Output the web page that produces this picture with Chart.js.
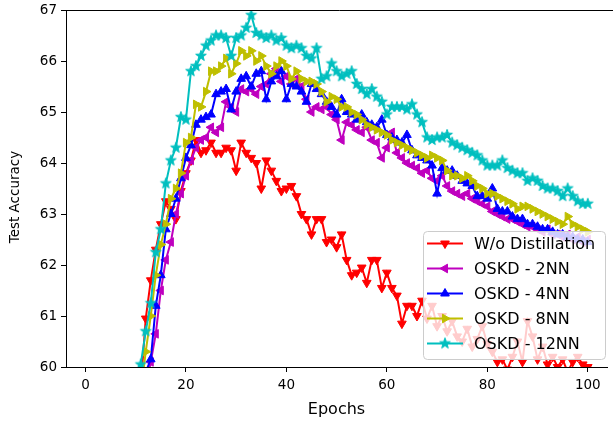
<!DOCTYPE html>
<html>
<head>
<meta charset="utf-8">
<script src="https://cdn.jsdelivr.net/npm/chart.js@4/dist/chart.umd.min.js"></script>
<style>
  html, body { margin: 0; padding: 0; background: #fff; }
  #chart { display: block; }
</style>
</head>
<body>
<canvas id="chart" width="613" height="421"></canvas>
<script>
// epochs 1..100 (x positions)
const epochs = Array.from({ length: 100 }, (_, i) => i + 1);

const xTicks = [0, 20, 40, 60, 80, 100];
const yTicks = [60, 61, 62, 63, 64, 65, 66, 67];

const seriesNames = ["W/o Distillation", "OSKD - 2NN", "OSKD - 4NN", "OSKD - 8NN", "OSKD - 12NN"];

const woDistill = [
    35.0, 42.1, 46.5, 49.8, 52.3, 54.2, 55.9, 57.1, 58.0, 58.8,
    59.6, 60.95, 61.7, 62.3, 62.8, 63.25, 63.1, 62.9, 63.45, 63.8,
    64.05, 64.45, 64.2, 64.25, 64.4, 64.2, 64.2, 64.3, 64.25, 63.85,
    64.4, 64.2, 64.1, 64.0, 63.5, 64.05, 63.85, 63.65, 63.45, 63.5,
    63.55, 63.35, 63.0, 62.9, 62.6, 62.9, 62.9, 62.45, 62.5, 62.35,
    62.6, 62.1, 61.8, 61.85, 61.95, 61.65, 62.1, 62.1, 61.55, 61.85,
    61.55, 61.4, 60.85, 61.2, 61.2, 61.0, 61.3, 60.95, 61.2, 60.8,
    61.0, 60.7, 60.9, 60.6, 60.5, 60.75, 60.4, 60.55, 60.8, 60.45,
    60.3, 60.1, 60.15, 59.95, 60.2, 60.5, 60.1, 60.9, 60.6, 60.15,
    60.4, 60.05, 60.2, 60.0, 60.15, 59.9, 60.1, 60.2, 60.05, 60.0
];

const oskd2 = [
    33.0, 40.5, 45.0, 48.5, 51.0, 53.2, 55.0, 56.5, 57.6, 58.4,
    59.0, 59.6, 60.1, 60.65, 61.5, 62.1, 62.45, 63.0, 63.4, 63.75,
    64.05, 64.3, 64.45, 64.5, 64.7, 64.6, 64.7, 65.2, 65.1, 65.0,
    65.45, 65.4, 65.45, 65.35, 65.5, 65.55, 65.75, 65.85, 65.6, 65.7,
    65.55, 65.65, 65.5, 65.25, 65.0, 65.1, 65.05, 65.1, 64.95, 64.85,
    64.45, 64.8, 64.75, 64.65, 64.6, 64.7, 64.45, 64.4, 64.1, 64.3,
    64.6, 64.2, 64.1, 64.0, 63.95, 63.9, 63.8, 63.85, 63.7, 63.65,
    63.75, 63.55, 63.45, 63.4, 63.35, 63.4, 63.3, 63.25, 63.2, 63.15,
    63.05, 63.0, 62.95, 62.9, 62.9, 62.85, 62.8, 62.75, 62.75, 62.7,
    62.65, 62.7, 62.6, 62.6, 62.55, 62.6, 62.5, 62.55, 62.45, 62.5
];

const oskd4 = [
    34.5, 41.8, 46.0, 49.3, 51.8, 53.8, 55.5, 56.8, 57.8, 58.6,
    59.2, 59.9, 60.15, 61.2, 61.8, 62.7, 63.0, 63.3, 63.7, 64.1,
    64.35, 64.75, 64.85, 64.9, 64.95, 65.35, 65.4, 65.45, 65.05, 65.4,
    65.65, 65.7, 65.5, 65.75, 65.8, 65.25, 65.6, 65.7, 65.8, 65.25,
    65.55, 65.5, 65.4, 65.2, 65.55, 65.45, 65.35, 65.2, 65.1, 64.95,
    65.25, 65.0, 64.95, 64.85, 64.95, 64.8, 64.75, 64.7, 64.85, 64.55,
    64.5, 64.45, 64.4, 64.55, 64.25, 64.15, 64.1, 64.05, 63.95, 63.4,
    63.9, 63.85, 63.85, 63.75, 63.65, 63.6, 63.55, 63.35, 63.35, 63.3,
    63.5, 63.1, 63.05, 63.05, 62.95, 62.9, 62.9, 62.8, 62.8, 62.75,
    62.7, 62.7, 62.65, 62.6, 62.6, 62.55, 62.55, 62.5, 62.5, 62.45
];

const oskd8 = [
    35.5, 42.6, 46.8, 50.0, 52.5, 54.4, 56.0, 57.3, 58.3, 59.0,
    59.5, 60.3, 61.0, 61.8, 62.4, 62.8, 63.3, 63.5, 63.8, 64.4,
    64.5, 65.15, 65.1, 65.4, 65.8, 65.8, 65.9, 66.05, 65.75, 65.95,
    66.2, 66.1, 66.2, 66.0, 66.1, 65.9, 65.75, 65.9, 66.0, 65.9,
    65.65, 65.8, 65.65, 65.6, 65.6, 65.55, 65.4, 65.2, 65.3, 65.25,
    65.1, 65.1, 65.0, 64.95, 64.85, 64.75, 64.7, 64.65, 64.6, 64.55,
    64.45, 64.4, 64.35, 64.3, 64.25, 64.2, 64.15, 64.1, 64.15, 64.1,
    64.05, 63.85, 63.75, 63.75, 63.7, 63.75, 63.65, 63.55, 63.5, 63.4,
    63.4, 63.35, 63.3, 63.25, 63.2, 63.1, 63.15, 63.15, 63.1, 63.05,
    63.0, 62.95, 62.9, 62.85, 62.8, 62.95, 62.8, 62.75, 62.7, 62.65
];

const oskd12 = [
    37.0, 44.0, 48.0, 51.0, 53.5, 55.3, 56.8, 57.9, 58.7, 59.4,
    60.05, 60.7, 61.25, 62.25, 62.7, 63.6, 64.05, 64.3, 64.9, 64.85,
    65.8, 65.9, 66.1, 66.3, 66.4, 66.5, 66.5, 66.45, 66.1, 66.45,
    66.5, 66.65, 66.9, 66.55, 66.5, 66.45, 66.5, 66.4, 66.45, 66.3,
    66.25, 66.3, 66.25, 66.1, 66.05, 66.25, 65.65, 65.7, 65.95, 65.8,
    65.7, 65.75, 65.8, 65.55, 65.45, 65.35, 65.45, 65.3, 65.2, 64.95,
    65.1, 65.1, 65.1, 65.05, 65.15, 64.95, 64.8, 64.5, 64.45, 64.5,
    64.5, 64.55, 64.4, 64.35, 64.3, 64.25, 64.2, 64.15, 64.05, 63.95,
    63.95, 63.95, 64.05, 63.9, 63.85, 63.8, 63.8, 63.65, 63.7, 63.65,
    63.55, 63.5, 63.5, 63.45, 63.35, 63.5, 63.35, 63.25, 63.2, 63.2
];

const FONT = "'DejaVu Sans', sans-serif";

// filled 5-point star like matplotlib '*'
function makeStar(color) {
    const c = document.createElement("canvas");
    c.width = 14;
    c.height = 14;
    const g = c.getContext("2d");
    const outer = 5.6, inner = 2.3;
    g.beginPath();
    for (let i = 0; i < 10; i++) {
        const r = i % 2 === 0 ? outer : inner;
        const a = -Math.PI / 2 + i * Math.PI / 5;
        const px = 7 + r * Math.cos(a);
        const py = 7 + r * Math.sin(a);
        if (i === 0) g.moveTo(px, py); else g.lineTo(px, py);
    }
    g.closePath();
    g.fillStyle = color;
    g.strokeStyle = color;
    g.lineWidth = 1;
    g.fill();
    g.stroke();
    return c;
}

const starImg = makeStar("#00bfbf");

function toPoints(values) {
    return epochs.map((e, i) => ({ x: e, y: values[i] }));
}

function series(label, values, color, style, rotation, order) {
    return {
        label,
        data: toPoints(values),
        borderColor: color,
        backgroundColor: color,
        borderWidth: 2,
        pointStyle: style,
        pointRotation: rotation,
        pointRadius: 5,
        pointBorderWidth: 1,
        pointBackgroundColor: color,
        pointBorderColor: color,
        tension: 0,
        clip: 0,
        order,
    };
}

const datasets = [
    series(seriesNames[0], woDistill, "#ff0000", "triangle", 180, 5),
    series(seriesNames[1], oskd2, "#bf00bf", "triangle", 270, 4),
    series(seriesNames[2], oskd4, "#0000ff", "triangle", 0, 3),
    series(seriesNames[3], oskd8, "#bfbf00", "triangle", 90, 2),
    series(seriesNames[4], oskd12, "#00bfbf", starImg, 0, 1),
];

// top spine runs off the right edge of the picture, like the cropped original
const framePlugin = {
    id: "frame",
    afterDatasetsDraw(chart) {
        const { ctx, chartArea } = chart;
        ctx.save();
        ctx.strokeStyle = "#000";
        ctx.lineWidth = 1;
        ctx.beginPath();
        ctx.moveTo(Math.round(chartArea.left) - 0.5, Math.round(chartArea.top) + 0.5);
        ctx.lineTo(chart.width, Math.round(chartArea.top) + 0.5);
        ctx.stroke();
        // y axis title
        ctx.translate(15, 197);
        ctx.rotate(-Math.PI / 2);
        ctx.fillStyle = "#000";
        ctx.font = "13.5px " + FONT;
        ctx.textAlign = "center";
        ctx.textBaseline = "middle";
        ctx.fillText("Test Accuracy", 0, 0);
        ctx.restore();
    },
};

const legendPlugin = {
    id: "innerLegend",
    afterDraw(chart) {
        const { ctx } = chart;
        const box = { x: 423.5, y: 231.5, w: 182, h: 128 };
        ctx.save();
        ctx.beginPath();
        ctx.roundRect(box.x, box.y, box.w, box.h, 4);
        ctx.fillStyle = "rgba(255,255,255,0.8)";
        ctx.fill();
        ctx.strokeStyle = "#cccccc";
        ctx.lineWidth = 1;
        ctx.stroke();

        datasets.forEach((ds, i) => {
            const y = 243.5 + i * 25;
            ctx.strokeStyle = ds.borderColor;
            ctx.lineWidth = 2;
            ctx.beginPath();
            ctx.moveTo(427, y);
            ctx.lineTo(463, y);
            ctx.stroke();
            ctx.fillStyle = ds.borderColor;
            ctx.lineWidth = 1;
            Chart.helpers.drawPoint(ctx, {
                pointStyle: ds.pointStyle,
                radius: 5,
                rotation: ds.pointRotation,
                borderWidth: 1,
            }, 445, y);
            ctx.fillStyle = "#000";
            ctx.font = "16px " + FONT;
            ctx.textBaseline = "middle";
            ctx.textAlign = "left";
            ctx.fillText(ds.label, 474, y + 1);
        });
        ctx.restore();
    },
};

new Chart(document.getElementById("chart"), {
    type: "line",
    data: { datasets },
    options: {
        responsive: false,
        animation: false,
        devicePixelRatio: 1,
        layout: { padding: { top: 10, right: 0, left: 0, bottom: 0 } },
        plugins: {
            legend: { display: false },
            tooltip: { enabled: false },
        },
        scales: {
            x: {
                type: "linear",
                min: -3.875,
                max: 103.83,
                afterBuildTicks: (scale) => {
                    scale.ticks = xTicks.map((v) => ({ value: v }));
                },
                afterFit: (scale) => {
                    scale.height = 54;
                    scale.paddingLeft = 0;
                    scale.paddingRight = 0;
                },
                grid: {
                    drawOnChartArea: false,
                    drawTicks: true,
                    tickLength: 5,
                    tickColor: "#000",
                    tickWidth: 1,
                },
                border: { display: true, color: "#000", width: 1 },
                ticks: {
                    color: "#000",
                    padding: 5,
                    maxRotation: 0,
                    font: { family: FONT, size: 13.5 },
                },
                title: {
                    display: true,
                    text: "Epochs",
                    color: "#000",
                    font: { family: FONT, size: 16 },
                    padding: { top: 0, bottom: 2 },
                },
            },
            y: {
                min: 60,
                max: 67,
                afterBuildTicks: (scale) => {
                    scale.ticks = yTicks.map((v) => ({ value: v }));
                },
                afterFit: (scale) => {
                    scale.width = 66;
                    scale.paddingTop = 0;
                    scale.paddingBottom = 0;
                },
                grid: {
                    drawOnChartArea: false,
                    drawTicks: true,
                    tickLength: 5,
                    tickColor: "#000",
                    tickWidth: 1,
                },
                border: { display: true, color: "#000", width: 1 },
                ticks: {
                    color: "#000",
                    padding: 4,
                    font: { family: FONT, size: 13.5 },
                },
                title: { display: false },
            },
        },
    },
    plugins: [framePlugin, legendPlugin],
});
</script>
</body>
</html>
